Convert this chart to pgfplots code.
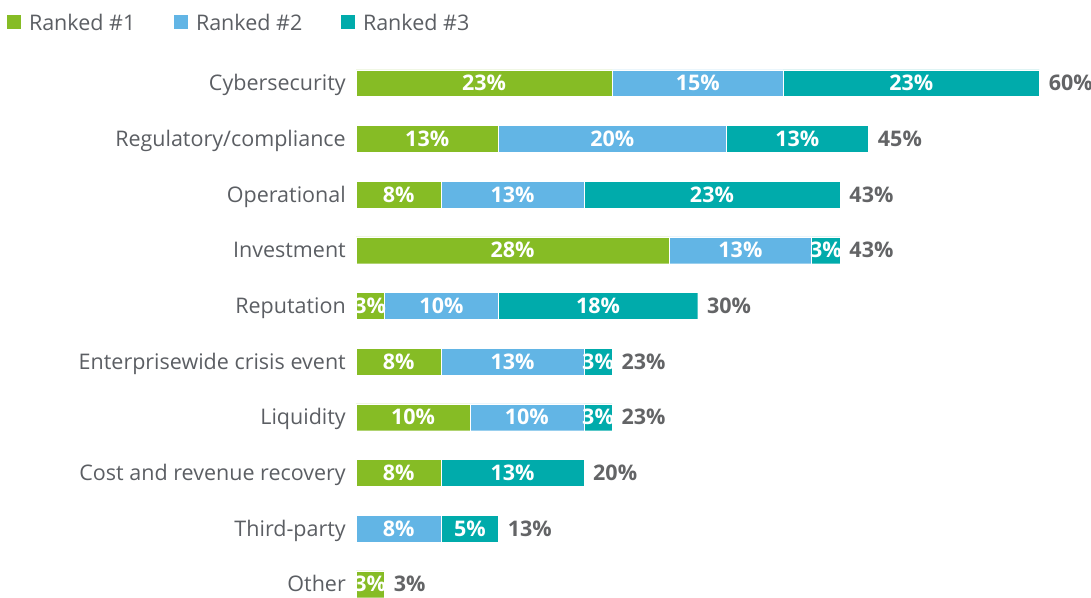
\documentclass[border=0pt]{standalone}
\usepackage{pgfplots}
\pgfplotsset{compat=1.18}
\usepackage{pgfplotstable}
\usepackage{fontspec}
\setmainfont{Open Sans}
\definecolor{rgreen}{HTML}{86BC25}
\definecolor{rblue}{HTML}{62B5E5}
\definecolor{rteal}{HTML}{00ABAB}
\definecolor{catgray}{HTML}{5B5E63}
\definecolor{totgray}{HTML}{636466}

\pgfplotstableread{
idx a b c la lb lc lt
0 22.5 15 22.5 23 15 23 60
1 12.5 20 12.5 13 20 13 45
2 7.5 12.5 22.5 8 13 23 43
3 27.5 12.5 2.5 28 13 3 43
4 2.5 10 17.5 3 10 18 30
5 7.5 12.5 2.5 8 13 3 23
6 10 10 2.5 10 10 3 23
7 7.5 0 12.5 8 0 13 20
8 0 7.5 5 0 8 5 13
9 2.5 0 0 3 0 0 3
}\datatable

\newcommand{\lblfont}{\fontsize{10.75}{12}\selectfont}

\pgfplotsset{base/.style={
  width=545.5pt, height=298.5pt, scale only axis,
  xmin=-31.256, xmax=64.53, ymin=-1.496, ymax=9.228, y dir=reverse,
  axis line style={draw=none}, tick style={draw=none}, major tick length=0pt,
  xtick=\empty, ytick=\empty,
}}

\begin{document}
\begin{tikzpicture}
\begin{axis}[base, xbar stacked, bar width=0.48,
  ytick={0,...,9},
  yticklabels={Cybersecurity, Regulatory/compliance, Operational, Investment, Reputation, Enterprisewide crisis event, Liquidity, Cost and revenue recovery, Third-party, Other},
  yticklabel style={anchor=base east, inner sep=0pt, xshift=173.1pt, yshift=-3.8pt, font=\lblfont, text=catgray},
  legend columns=3,
  legend style={at={(axis description cs:0.0067,0.9767)}, anchor=north west, draw=none, fill=none,
    inner sep=0pt, outer sep=0pt, font=\lblfont, text=catgray, nodes={inner sep=0pt},
    /tikz/every odd column/.append style={column sep=4pt},
    /tikz/every even column/.append style={column sep=19.5pt}},
  legend image code/.code={\fill[#1,draw=none] (0pt,-2.5pt) rectangle (6.85pt,4.5pt);},
]
\addplot[fill=rgreen, draw=white, line width=0.15pt] table[x=a, y=idx] {\datatable};
\addlegendentry{Ranked \#1}
\addplot[fill=rblue, draw=white, line width=0.15pt] table[x=b, y=idx] {\datatable};
\addlegendentry{Ranked \#2}
\addplot[fill=rteal, draw=white, line width=0.15pt] table[x=c, y=idx] {\datatable};
\addlegendentry{Ranked \#3}
\end{axis}
\begin{axis}[base, clip=false]
\pgfplotsset{every node near coord/.append style={anchor=base, yshift=-3.8pt, inner sep=0pt, text=white, font=\bfseries\lblfont}}
\addplot[draw=none, nodes near coords={\pgfplotspointmeta\%}, point meta=explicit symbolic,
  restrict expr to domain={\thisrow{a}}{0.1:100}]
  table[x expr={\thisrow{a}/2}, y=idx, meta=la] {\datatable};
\addplot[draw=none, nodes near coords={\pgfplotspointmeta\%}, point meta=explicit symbolic,
  restrict expr to domain={\thisrow{b}}{0.1:100}]
  table[x expr={\thisrow{a}+\thisrow{b}/2}, y=idx, meta=lb] {\datatable};
\addplot[draw=none, nodes near coords={\pgfplotspointmeta\%}, point meta=explicit symbolic,
  restrict expr to domain={\thisrow{c}}{0.1:100}]
  table[x expr={\thisrow{a}+\thisrow{b}+\thisrow{c}/2}, y=idx, meta=lc] {\datatable};
\addplot[draw=none, nodes near coords={\pgfplotspointmeta\%}, point meta=explicit symbolic,
  every node near coord/.append style={anchor=base west, xshift=4.5pt, text=totgray}]
  table[x expr={\thisrow{a}+\thisrow{b}+\thisrow{c}}, y=idx, meta=lt] {\datatable};
\end{axis}
\pgfresetboundingbox
\path[use as bounding box] (current axis.south west) rectangle (current axis.north east);
\end{tikzpicture}
\end{document}
